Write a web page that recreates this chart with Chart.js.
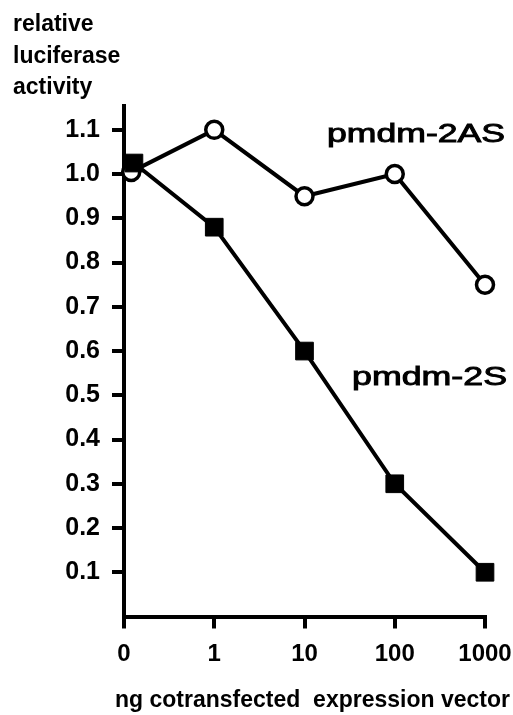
<!DOCTYPE html>
<html>
<head>
<meta charset="utf-8">
<style>
  html, body { margin: 0; padding: 0; background: #fff; }
  #wrap { width: 513px; height: 715px; }
</style>
<script src="https://cdn.jsdelivr.net/npm/chart.js@4/dist/chart.umd.min.js"></script>
</head>
<body>
<div id="wrap"><canvas id="c" width="513" height="715"></canvas></div>
<script>
// ---- data ----
const xTickLabels = ['0', '1', '10', '100', '1000'];      // ng cotransfected expression vector
const xPosAS = [0.08, 1, 2, 3, 4];                          // category positions for pmdm-2AS points
const xPosS  = [0.11, 1, 2, 3, 4];                          // category positions for pmdm-2S points
const pmdm2AS = [1.005, 1.10, 0.95, 1.00, 0.75];           // open circles
const pmdm2S  = [1.025, 0.88, 0.60, 0.30, 0.10];           // filled squares
const yTitleLines = ['relative', 'luciferase', 'activity'];
const xTitle = 'ng cotransfected  expression vector';
const seriesNames = ['pmdm-2AS', 'pmdm-2S'];

const toPts = (xs, ys) => xs.map((x, i) => ({ x: x, y: ys[i] }));
const FAM = '"Liberation Sans", Arial, sans-serif';

function fitText(ctx, text, left, baseline, width, stroke) {
  const w = ctx.measureText(text).width;
  ctx.save();
  ctx.translate(left, baseline);
  ctx.scale(width / w, 1);
  ctx.fillText(text, 0, 0);
  if (stroke) ctx.strokeText(text, 0, 0);
  ctx.restore();
}

const textPlugin = {
  id: 'textPlugin',
  afterDraw(chart) {
    const ctx = chart.ctx;
    ctx.save();
    ctx.fillStyle = '#000';
    ctx.strokeStyle = '#000';
    ctx.textBaseline = 'alphabetic';
    ctx.textAlign = 'left';
    // series labels (wide, regular weight)
    ctx.font = '25px ' + FAM;
    ctx.lineWidth = 0.9;
    fitText(ctx, seriesNames[0], 327, 142, 178, true);
    fitText(ctx, seriesNames[1], 352, 385, 155, true);
    // x axis title
    ctx.font = 'bold 24px ' + FAM;
    fitText(ctx, xTitle, 115, 707, 395, false);
    ctx.restore();
  }
};

new Chart(document.getElementById('c'), {
  type: 'line',
  data: {
    datasets: [
      {
        label: seriesNames[1],
        data: toPts(xPosS, pmdm2S),
        borderColor: '#000',
        borderWidth: 4,
        pointStyle: 'rect',
        pointRadius: 12.5,
        pointBorderWidth: 1,
        pointBackgroundColor: '#000',
        pointBorderColor: '#000',
        tension: 0,
        clip: false,
        order: 0
      },
      {
        label: seriesNames[0],
        data: toPts(xPosAS, pmdm2AS),
        borderColor: '#000',
        borderWidth: 4,
        pointStyle: 'circle',
        pointRadius: 8.5,
        pointBorderWidth: 3.5,
        pointBackgroundColor: '#fff',
        pointBorderColor: '#000',
        tension: 0,
        clip: false,
        order: 1
      }
    ]
  },
  options: {
    responsive: false,
    devicePixelRatio: 1,
    animation: false,
    layout: { padding: { left: 13, right: 28, top: 0, bottom: 0 } },
    plugins: {
      legend: { display: false },
      tooltip: { enabled: false },
      title: {
        display: true,
        text: yTitleLines,
        align: 'start',
        color: '#000',
        font: { family: FAM, size: 23, weight: 'bold', lineHeight: 1.37 },
        padding: { top: 9, bottom: 2 }
      }
    },
    scales: {
      x: {
        type: 'linear',
        min: 0,
        max: 4,
        afterFit(scale) { scale.height = 98.5; scale.paddingLeft = 0; scale.paddingRight = 0; },
        afterBuildTicks(scale) { scale.ticks = xTickLabels.map((_, i) => ({ value: i })); },
        ticks: {
          color: '#000',
          padding: 11,
          font: { family: FAM, size: 24, weight: 'bold' },
          callback: (v) => xTickLabels[v],
          maxRotation: 0,
          autoSkip: false
        },
        grid: {
          display: true,
          drawOnChartArea: false,
          drawTicks: true,
          tickLength: 12,
          lineWidth: 4,
          color: '#000'
        },
        border: { display: true, width: 4, color: '#000' },
        title: { display: false }
      },
      y: {
        type: 'linear',
        min: 0,
        max: 1.155,
        afterFit(scale) { scale.width = 111; scale.paddingTop = 0; scale.paddingBottom = 0; },
        ticks: {
          stepSize: 0.1,
          includeBounds: false,
          color: '#000',
          padding: 12,
          font: { family: FAM, size: 25, weight: 'bold' },
          callback: (v) => (v < 0.05 ? '' : v.toFixed(1))
        },
        grid: {
          display: true,
          drawOnChartArea: false,
          drawTicks: true,
          tickLength: 12,
          lineWidth: 4,
          color: (c) => (c.tick && c.tick.value < 0.05 ? 'rgba(0,0,0,0)' : '#000')
        },
        border: { display: true, width: 4, color: '#000' }
      }
    }
  },
  plugins: [textPlugin]
});
</script>
</body>
</html>
